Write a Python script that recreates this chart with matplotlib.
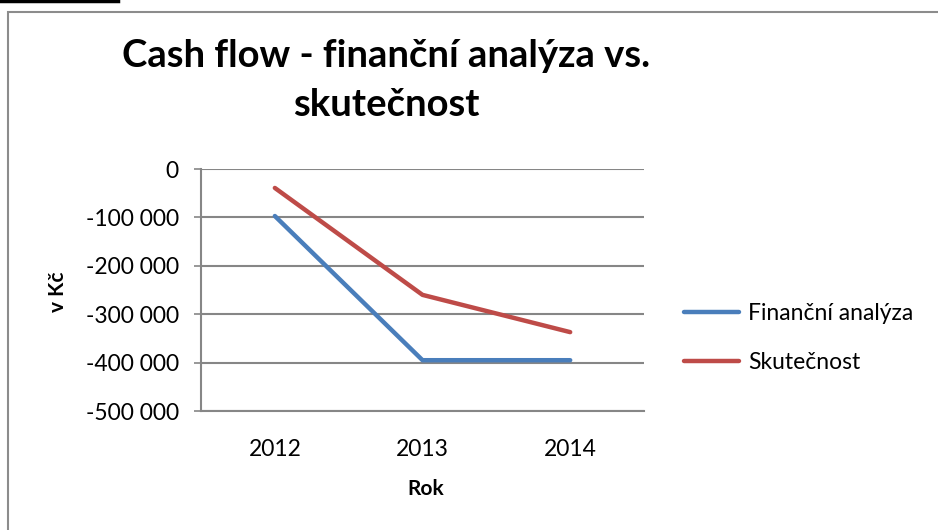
import matplotlib
matplotlib.use("Agg")
import matplotlib.pyplot as plt
from matplotlib.patches import Rectangle
from matplotlib.lines import Line2D

years = ["2012", "2013", "2014"]
financni = [-97000, -395000, -395000]
skutecnost = [-39000, -260000, -337000]
yticks = [0, -100000, -200000, -300000, -400000, -500000]

plt.rcParams['font.family'] = ['Lato', 'DejaVu Sans']

fig = plt.figure(figsize=(9.38, 5.30), dpi=100)
ax = fig.add_axes([0.2143, 0.2245, 0.4723, 0.4565])

x = range(len(years))
ax.plot(x, financni, color="#4a7ebb", lw=3.2, solid_capstyle="round", label="Finanční analýza")
ax.plot(x, skutecnost, color="#be4b48", lw=3.2, solid_capstyle="round", label="Skutečnost")

ax.set_xlim(-0.5, 2.5)
ax.set_ylim(-500000, 0)
ax.set_yticks(yticks)
ax.set_yticklabels([f"{v:,}".replace(",", " ") for v in yticks], fontsize=16.5)
ax.set_xticks(list(x))
ax.set_xticklabels(years, fontsize=16.5)
ax.tick_params(axis="x", length=0, pad=20)
ax.tick_params(axis="y", length=5, color="#868686", width=1.2, pad=11)
ax.grid(axis="y", color="#868686", lw=1.5)
ax.set_axisbelow(True)
for s in ["top", "right"]:
    ax.spines[s].set_visible(False)
for s in ["left", "bottom"]:
    ax.spines[s].set_color("#868686")
    ax.spines[s].set_linewidth(1.5)

fig.text(0.4115, 0.894, "Cash flow - finanční analýza vs.", ha="center", va="center",
         fontsize=27.5, fontweight="bold")
fig.text(0.4115, 0.802, "skutečnost", ha="center", va="center",
         fontsize=27.5, fontweight="bold")
fig.text(0.062, 0.449, "v Kč", rotation=90, ha="center", va="center",
         fontsize=15, fontweight="bold")
fig.text(0.454, 0.077, "Rok", ha="center", va="center", fontsize=15, fontweight="bold")

handles = [Line2D([], [], color="#4a7ebb", lw=3.2, solid_capstyle="round"),
           Line2D([], [], color="#be4b48", lw=3.2, solid_capstyle="round")]
fig.legend(handles, ["Finanční analýza", "Skutečnost"], loc="center left",
           bbox_to_anchor=(0.707, 0.362), frameon=False, fontsize=16.5,
           handlelength=2.4, handletextpad=0.4, labelspacing=1.25)

# chart border and cropped bits at top
fig.patches.append(Rectangle((0.0085, -0.01), 1.0, 0.9875, transform=fig.transFigure,
                             fill=False, edgecolor="#8c8c8c", lw=1.5))
fig.lines.append(Line2D([0, 0.126], [0.998, 0.998], transform=fig.transFigure,
                        color="black", lw=2.5))

fig.savefig("out.png", dpi=100)
